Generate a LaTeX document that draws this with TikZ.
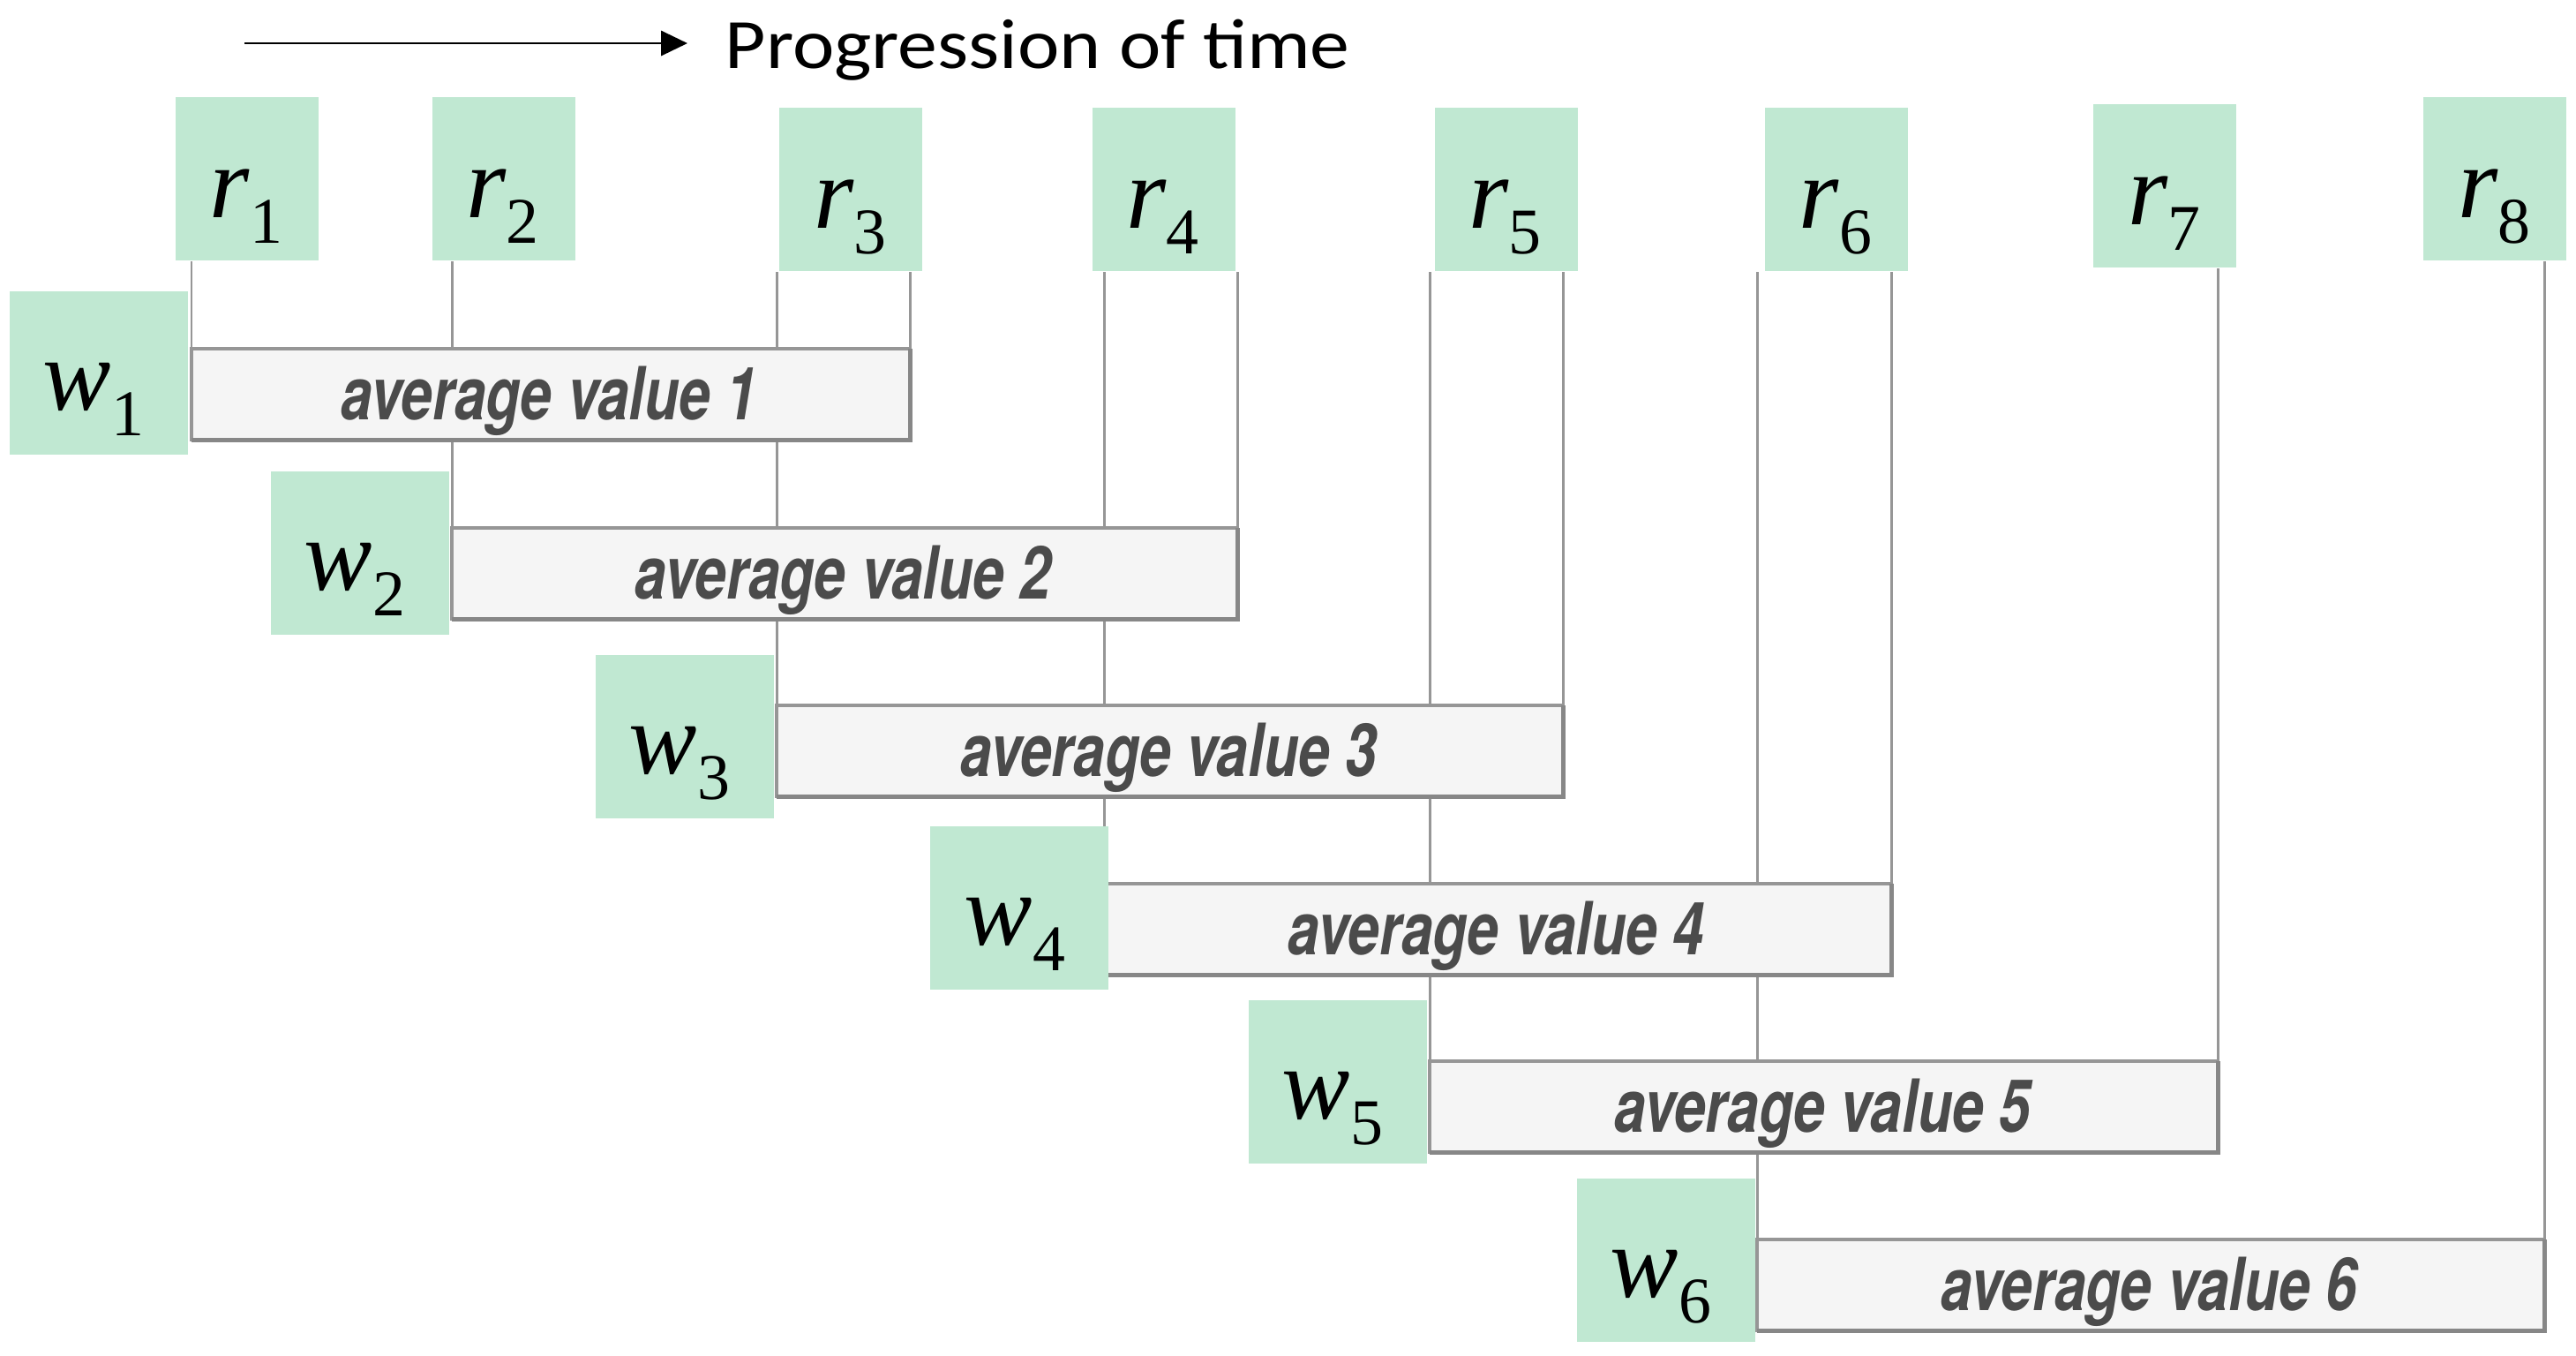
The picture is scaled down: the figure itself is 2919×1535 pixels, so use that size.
\documentclass[tikz,border=0pt]{standalone}
\usepackage{fontspec}
\setmainfont{Liberation Serif}
\newfontfamily\calfont{Carlito}
\newfontfamily\helvfont{TeX Gyre Heros}
\usetikzlibrary{arrows.meta}
\definecolor{mint}{RGB}{192,232,210}
\definecolor{barfill}{RGB}{245,245,245}
\definecolor{barline}{RGB}{150,150,150}
\definecolor{barshade}{RGB}{135,135,135}
\definecolor{vcol}{RGB}{150,150,150}
\definecolor{avgtext}{RGB}{75,75,75}
\newcommand\rwlab[2]{{\fontsize{33pt}{33pt}\selectfont\itshape #1}\raisebox{-8.3pt}{\fontsize{21pt}{21pt}\selectfont #2}}
\newcommand\avgtxt[1]{\scalebox{0.77}[1]{average value #1}}
\begin{document}
\begin{tikzpicture}[x=0.01cm,y=-0.01cm,
  gbox/.style={fill=mint, draw=none, anchor=north west, inner sep=0pt, minimum width=1.62cm, minimum height=1.85cm},
  wbox/.style={fill=mint, draw=none, anchor=north west, inner sep=0pt, minimum width=2.02cm, minimum height=1.85cm},
  glab/.style={anchor=base, inner sep=0pt},
  barbox/.style={fill=barfill, draw=barline, line width=0.9pt, anchor=north west, inner sep=0pt, minimum height=1.0cm},
  avg/.style={anchor=base, inner sep=0pt, text=avgtext, font=\helvfont\bfseries\itshape\fontsize{23.6pt}{23.6pt}\selectfont},
  vline/.style={draw=vcol, line width=0.85pt},
  timearrow/.style={line width=0.8pt, -{Triangle[length=8.5pt, width=8pt]}}
]
\useasboundingbox (0,0) rectangle (2919,1535);

% time arrow and caption
\coordinate (a0) at (277,49);
\coordinate (a1) at (779,49);
\draw[timearrow] (a0) -- (a1);
\node[anchor=base west, inner sep=0pt, font=\calfont\fontsize{22.8pt}{22.8pt}\selectfont] (prog) at (821,77) {\scalebox{1.12}[1]{Progression of time}};

% read boxes
\node[gbox] (r1) at (198,109) {};
\node[gbox] (r2) at (489,109) {};
\node[gbox] (r3) at (882,121) {};
\node[gbox] (r4) at (1237,121) {};
\node[gbox] (r5) at (1625,121) {};
\node[gbox] (r6) at (1999,121) {};
\node[gbox] (r7) at (2371,117) {};
\node[gbox] (r8) at (2745,109) {};

% bars (placed first so their anchors exist)
\node[barbox, minimum width=8.11cm] (b1) at (217,395) {};
\node[barbox, minimum width=8.87cm] (b2) at (512,598) {};
\node[barbox, minimum width=8.88cm] (b3) at (880,799) {};
\node[barbox, minimum width=8.89cm] (b4) at (1251,1001) {};
\node[barbox, minimum width=8.90cm] (b5) at (1620,1202) {};
\node[barbox, minimum width=8.89cm] (b6) at (1991,1404) {};

% vertical lines from the read boxes down to the bars
\path[vline]
  (b1.north west) -- (b1.north west |- r1.south)
  (b2.north west) -- (b2.north west |- r2.south)
  (b3.north west) -- (b3.north west |- r3.south)
  (b1.north east) -- (b1.north east |- r3.south)
  (b4.north west) -- (b4.north west |- r4.south)
  (b2.north east) -- (b2.north east |- r4.south)
  (b5.north west) -- (b5.north west |- r5.south)
  (b3.north east) -- (b3.north east |- r5.south)
  (b6.north west) -- (b6.north west |- r6.south)
  (b4.north east) -- (b4.north east |- r6.south)
  (b5.north east) -- (b5.north east |- r7.south)
  (b6.north east) -- (b6.north east |- r8.south);

% redraw bars on top of the lines, with a darker lower edge
\foreach \b in {b1,b2,b3,b4,b5,b6}{
  \draw[fill=barfill, draw=barline, line width=0.9pt] (\b.north west) rectangle (\b.south east);
  \draw[draw=barshade, line width=1.4pt] (\b.south west) -- (\b.south east) -- (\b.north east);
}

% bar texts
\node[avg] (t1) at (622.5,475) {\avgtxt{1}};
\node[avg] (t2) at (955.5,678) {\avgtxt{2}};
\node[avg] (t3) at (1324,879) {\avgtxt{3}};
\node[avg] (t4) at (1695.5,1081) {\avgtxt{4}};
\node[avg] (t5) at (2065,1282) {\avgtxt{5}};
\node[avg] (t6) at (2435.5,1484) {\avgtxt{6}};

% write boxes
\node[wbox] (w1) at (10,329) {};
\node[wbox] (w2) at (306,533) {};
\node[wbox] (w3) at (674,741) {};
\node[wbox] (w4) at (1053,935) {};
\node[wbox] (w5) at (1414,1132) {};
\node[wbox] (w6) at (1786,1334) {};

% labels
\node[glab] (r1t) at (279,246) {\rwlab{r}{1}};
\node[glab] (r2t) at (569.5,246) {\rwlab{r}{2}};
\node[glab] (r3t) at (963.5,258) {\rwlab{r}{3}};
\node[glab] (r4t) at (1317.5,258) {\rwlab{r}{4}};
\node[glab] (r5t) at (1705.5,258) {\rwlab{r}{5}};
\node[glab] (r6t) at (2080,258) {\rwlab{r}{6}};
\node[glab] (r7t) at (2452.5,254) {\rwlab{r}{7}};
\node[glab] (r8t) at (2826,246) {\rwlab{r}{8}};

\node[glab] (w1t) at (106,464) {\rwlab{w}{1}};
\node[glab] (w2t) at (402,668) {\rwlab{w}{2}};
\node[glab] (w3t) at (770,876) {\rwlab{w}{3}};
\node[glab] (w4t) at (1150,1070) {\rwlab{w}{4}};
\node[glab] (w5t) at (1510,1267) {\rwlab{w}{5}};
\node[glab] (w6t) at (1882,1469) {\rwlab{w}{6}};
\end{tikzpicture}
\end{document}
